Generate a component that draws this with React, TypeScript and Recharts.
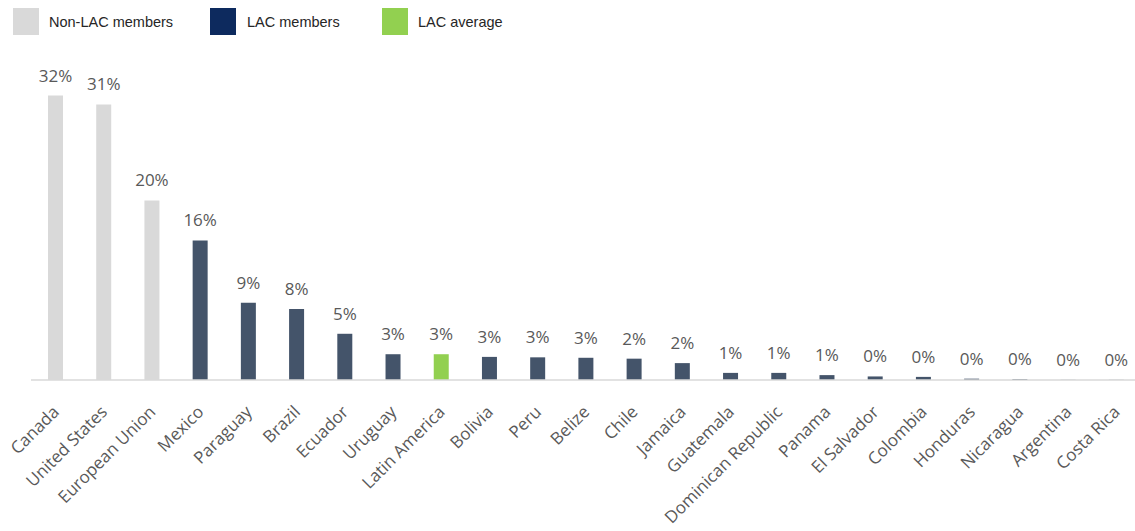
import React from "react";
import { BarChart, Bar, XAxis, YAxis, Cell, LabelList } from "recharts";

// share per member (%)
const countries = [
  "Canada", "United States", "European Union", "Mexico", "Paraguay", "Brazil",
  "Ecuador", "Uruguay", "Latin America", "Bolivia", "Peru", "Belize", "Chile",
  "Jamaica", "Guatemala", "Dominican Republic", "Panama", "El Salvador",
  "Colombia", "Honduras", "Nicaragua", "Argentina", "Costa Rica",
];
const shares = [
  32, 31, 20.2, 15.7, 8.7, 8.0, 5.2, 2.9, 2.9, 2.6, 2.55, 2.5, 2.4,
  1.9, 0.8, 0.8, 0.55, 0.4, 0.35, 0.15, 0.1, 0.02, 0.02,
];
const groups = [
  "non", "non", "non", "lac", "lac", "lac", "lac", "lac", "avg", "lac", "lac", "lac", "lac",
  "lac", "lac", "lac", "lac", "lac", "lac", "lac", "lac", "lac", "lac",
];

const barColors: Record<string, string> = { non: "#D9D9D9", lac: "#44546A", avg: "#92D050" };
const legendItems = [
  { label: "Non-LAC members", color: "#D9D9D9", x: 13, tx: 49 },
  { label: "LAC members", color: "#0D2A5E", x: 210, tx: 247 },
  { label: "LAC average", color: "#92D050", x: 382, tx: 418 },
];

const data = countries.map((name, i) => ({ name, value: shares[i], group: groups[i] }));

const labelFont = "'Open Sans', 'DejaVu Sans', sans-serif";

const CountryTick = (props: any) => {
  const { x, y, payload } = props;
  return (
    <text
      x={x + 5}
      y={y + 33}
      transform={`rotate(-45, ${x + 5}, ${y + 33})`}
      textAnchor="end"
      fill="#595959"
      fontSize={17}
      fontFamily={labelFont}
    >
      {payload.value}
    </text>
  );
};

const LegendBox = () => (
  <svg width={520} height={44} style={{ position: "absolute", left: 0, top: 0 }}>
    {legendItems.map((item) => (
      <g key={item.label}>
        <rect x={item.x} y={8} width={26} height={27} fill={item.color} />
        <text
          x={item.tx}
          y={27}
          fontSize={14.5}
          fill="#262626"
          fontFamily="'Liberation Sans', Arial, sans-serif"
        >
          {item.label}
        </text>
      </g>
    ))}
  </svg>
);

export default function App() {
  return (
    <div style={{ position: "absolute", left: 0, top: 0, width: 1135, height: 531, overflow: "hidden", background: "#fff" }}>
      <BarChart
        width={1140}
        height={531}
        data={data}
        margin={{ top: 60, right: 0, bottom: 121, left: 31 }}
        barCategoryGap={0}
      >
        <XAxis
          dataKey="name"
          interval={0}
          height={30}
          tickLine={false}
          tickSize={0}
          tickMargin={0}
          axisLine={{ stroke: "#D9D9D9", strokeWidth: 1.5 }}
          tick={<CountryTick />}
        />
        <YAxis hide domain={[0, 36]} />
        <Bar dataKey="value" barSize={15} isAnimationActive={false}>
          {data.map((d) => (
            <Cell key={d.name} fill={barColors[d.group]} />
          ))}
          <LabelList
            dataKey="value"
            position="top"
            offset={14}
            fill="#595959"
            fontSize={17}
            fontFamily={labelFont}
            formatter={(v: any) => `${Math.round(Number(v))}%`}
          />
        </Bar>
      </BarChart>
      <LegendBox />
    </div>
  );
}
